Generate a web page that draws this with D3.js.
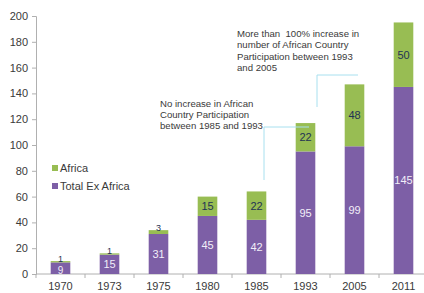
<!DOCTYPE html>
<html>
<head>
<meta charset="utf-8">
<script src="https://cdn.jsdelivr.net/npm/d3@7"></script>
<style>
  body { margin: 0; background: #fff; }
  text { font-family: "Liberation Sans", Arial, sans-serif; }
</style>
</head>
<body>
<script>
"use strict";

var years = ["1970", "1973", "1975", "1980", "1985", "1993", "2005", "2011"];
var exAfrica = [9, 15, 31, 45, 42, 95, 99, 145];
var africa = [1, 1, 3, 15, 22, 22, 48, 50];
var yTicks = [0, 20, 40, 60, 80, 100, 120, 140, 160, 180, 200];
var seriesNames = ["Africa", "Total Ex Africa"];

var width = 424, height = 293;
var colors = { ex: "#7d5fa6", af: "#98bd53", line: "#a8e0ef", axis: "#b0b0b0", text: "#3a3a3a" };

var svg = d3.select("body").append("svg")
  .attr("width", width)
  .attr("height", height);

var x = d3.scaleBand().domain(years).range([36, 428]).paddingInner(0.6).paddingOuter(0.3);
var y = d3.scaleLinear().domain([0, 200]).range([274, 16]);

var rows = years.map(function (yr, i) { return { year: yr, ex: exAfrica[i], af: africa[i] }; });
var stack = d3.stack().keys(["ex", "af"])(rows);

// y axis
var yAxis = svg.append("g")
  .attr("transform", "translate(36,0)")
  .call(d3.axisLeft(y).tickValues(yTicks).tickSize(4).tickPadding(4));
yAxis.select(".domain").attr("stroke", colors.axis);
yAxis.selectAll(".tick line").attr("stroke", colors.axis);
yAxis.selectAll("text").attr("font-size", 11).attr("fill", colors.text);

// x axis, ticks sit between the categories
var xAxis = svg.append("g").attr("transform", "translate(0,274)");
xAxis.append("line").attr("x1", 36).attr("x2", 428).attr("stroke", colors.axis);
var step = x.step();
xAxis.selectAll(".sep").data(d3.range(years.length + 1)).enter().append("line")
  .attr("x1", function (i) { return 36 + i * step; })
  .attr("x2", function (i) { return 36 + i * step; })
  .attr("y1", 0).attr("y2", 4)
  .attr("stroke", colors.axis);
xAxis.selectAll(".lbl").data(years).enter().append("text")
  .attr("x", function (d) { return x(d) + x.bandwidth() / 2; })
  .attr("y", 16)
  .attr("text-anchor", "middle")
  .attr("font-size", 11)
  .attr("fill", colors.text)
  .text(function (d) { return d; });

// bars
var layers = svg.selectAll(".layer").data(stack).enter().append("g")
  .attr("fill", function (d) { return d.key === "ex" ? colors.ex : colors.af; });
layers.selectAll("rect").data(function (d) { return d; }).enter().append("rect")
  .attr("x", function (d) { return x(d.data.year); })
  .attr("width", x.bandwidth())
  .attr("y", function (d) { return y(d[1]); })
  .attr("height", function (d) { return y(d[0]) - y(d[1]); });

// value labels; thin segments get smaller labels so they don't collide
function segH(d) { return y(d[0]) - y(d[1]); }
layers.selectAll("text").data(function (d) { return d.map(function (p) { p.key = d.key; return p; }); })
  .enter().append("text")
  .attr("x", function (d) { return x(d.data.year) + x.bandwidth() / 2; })
  .attr("y", function (d) {
    var h = segH(d);
    if (h < 8) return y(d[1]) + 0.5;
    if (h < 15) return y(d[0]) - 0.5;
    return (y(d[0]) + y(d[1])) / 2 + 4;
  })
  .attr("text-anchor", "middle")
  .attr("font-size", function (d) { var h = segH(d); return h < 8 ? 9 : (h < 15 ? 10 : 11); })
  .attr("fill", function (d) { return d.key === "ex" ? "#f2eef8" : "#1f3354"; })
  .text(function (d) { return d[1] - d[0]; });

// legend
var legend = svg.append("g");
var legendColors = [colors.af, colors.ex];
seriesNames.forEach(function (name, i) {
  legend.append("rect").attr("x", 52).attr("y", 165 + i * 18).attr("width", 6).attr("height", 6)
    .attr("fill", legendColors[i]);
  legend.append("text").attr("x", 60).attr("y", 172 + i * 18)
    .attr("font-size", 11).attr("fill", colors.text).text(name);
});

// annotations
function callout(lines, tx, ty, path) {
  svg.append("path").attr("d", path).attr("fill", "none").attr("stroke", colors.line).attr("stroke-width", 1);
  var t = svg.append("text").attr("font-size", 9.6).attr("fill", colors.text)
    .style("white-space", "pre");
  lines.forEach(function (l, i) {
    t.append("tspan").attr("x", tx).attr("y", ty + i * 11.3).text(l);
  });
}
callout(["No increase in African", "Country Participation", "between 1985 and 1993"], 160, 106.5,
  "M264,180V127H309");
callout(["More than  100% increase in", "number of African Country", "Participation between 1993", "and 2005"], 237, 37,
  "M317,107V75H358");
</script>
</body>
</html>
